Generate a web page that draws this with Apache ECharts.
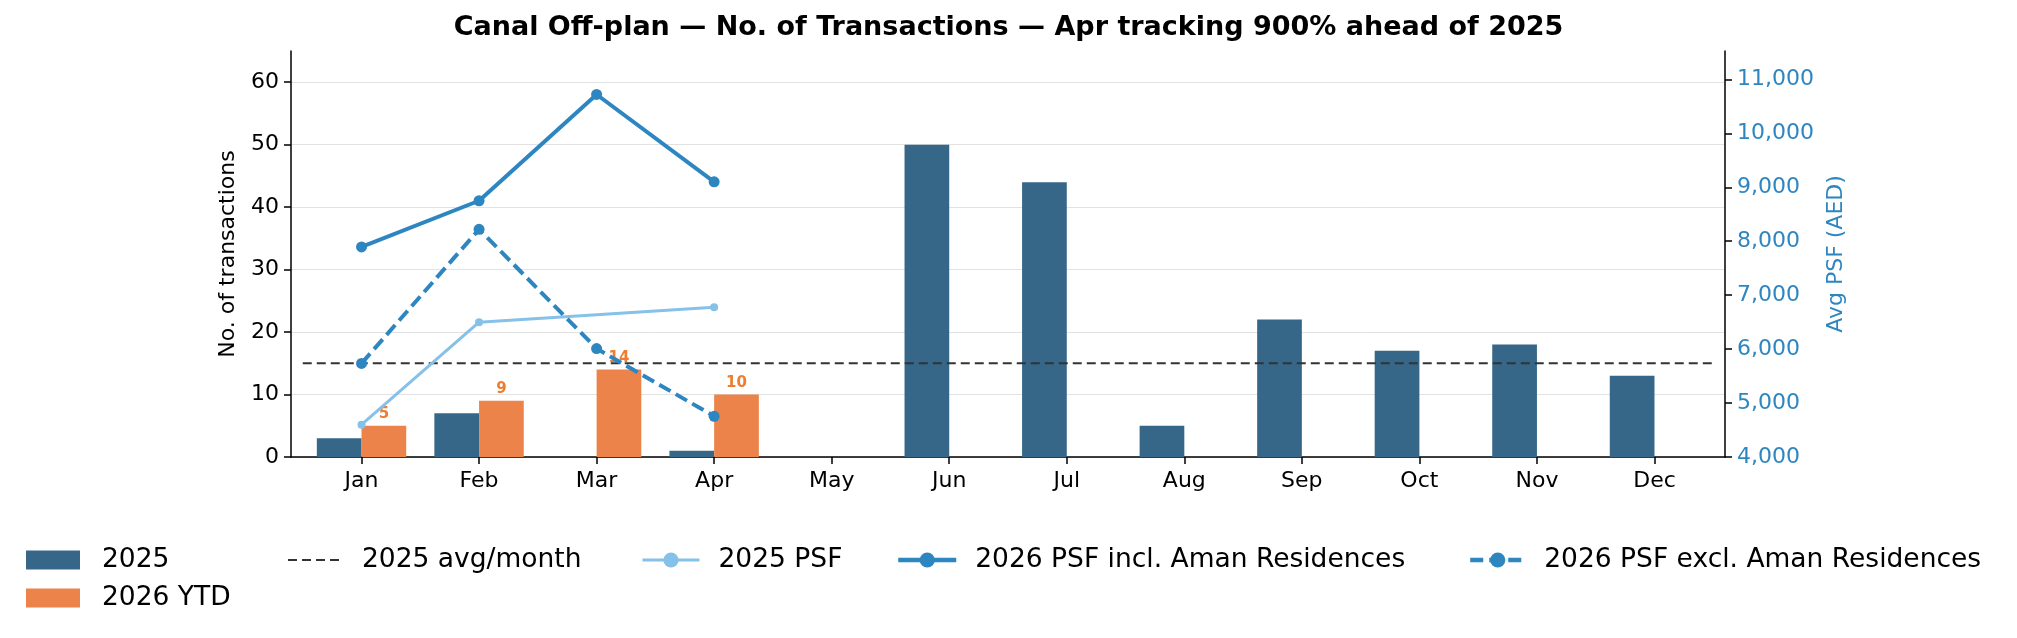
<!DOCTYPE html>
<html>
<head>
<meta charset="utf-8">
<script src="https://cdn.jsdelivr.net/npm/echarts@6/dist/echarts.min.js"></script>
<style>
  html, body { margin: 0; padding: 0; background: #fff; }
  #chart { width: 2017px; height: 638px; }
</style>
</head>
<body>
<div id="chart"></div>
<script>
// data
var months = ['Jan', 'Feb', 'Mar', 'Apr', 'May', 'Jun', 'Jul', 'Aug', 'Sep', 'Oct', 'Nov', 'Dec'];
var tx2025 = [3, 7, 0, 1, 0, 50, 44, 5, 22, 17, 18, 13];
var tx2026 = [5, 9, 14, 10];
var psf2025 = [4600, 6500, null, 6775];
var psf2026Incl = [7895, 8750, 10720, 9100];
var psf2026Excl = [5735, 8220, 6010, 4755];
var leftTicks = [0, 10, 20, 30, 40, 50, 60];
var rightTicks = [4000, 5000, 6000, 7000, 8000, 9000, 10000, 11000];

var avg2025 = tx2025.reduce(function (a, b) { return a + b; }, 0) / tx2025.length;

function pairs(arr) {
    var out = [];
    arr.forEach(function (v, i) {
        if (v !== null) out.push([i, v]);
    });
    return out;
}

var FONT = 'DejaVu Sans';
var C2025 = '#366788';
var C2026 = '#EC834B';
var CPSF = '#2E86C1';
var CPSF25 = '#85C1E9';

var myChart = echarts.init(document.getElementById('chart'));

var legendText = { fontFamily: FONT, fontSize: 26.5, color: '#000', lineHeight: 28, padding: [0, 0, 0, 14] };
var monthIdx = months.map(function (m, i) { return i; });

var option = {
    animation: false,
    textStyle: { fontFamily: FONT },
    title: {
        text: 'Canal Off-plan \u2014 No. of Transactions \u2014 Apr tracking 900% ahead of 2025',
        left: 'center',
        top: 9,
        textStyle: { fontFamily: FONT, fontSize: 27, fontWeight: 'bold', color: '#000' }
    },
    grid: { left: 291, right: 292, top: 51, bottom: 181 },
    legend: [
        {
            orient: 'vertical', left: 26, top: 546, padding: 0, itemWidth: 54, itemHeight: 19, itemGap: 10,
            icon: 'rect',
            data: ['2025', '2026 YTD'],
            textStyle: { fontFamily: FONT, fontSize: 26.5, color: '#000', lineHeight: 28, padding: [0, 0, 0, 17] }
        },
        { left: 287, top: 546, padding: 0, itemWidth: 55, itemHeight: 19, data: ['2025 avg/month'], textStyle: legendText },
        {
            left: 641, top: 546, padding: 0, itemWidth: 57, itemHeight: 19, data: ['2025 PSF'], textStyle: legendText,
            lineStyle: { width: 3 }
        },
        {
            left: 896, top: 546, padding: 0, itemWidth: 58, itemHeight: 19, data: ['2026 PSF incl. Aman Residences'], textStyle: legendText,
            lineStyle: { width: 4.5 }
        },
        {
            left: 1468, top: 546, padding: 0, itemWidth: 55, itemHeight: 19, data: ['2026 PSF excl. Aman Residences'], textStyle: legendText,
            lineStyle: { width: 4.5 }
        }
    ],
    xAxis: {
        type: 'value',
        min: -0.6,
        max: 11.6,
        splitLine: { show: false },
        axisLine: { onZero: false, lineStyle: { color: '#000', width: 1.5 } },
        axisTick: { customValues: monthIdx, length: 7, lineStyle: { color: '#000', width: 1.5 } },
        axisLabel: {
            customValues: monthIdx,
            formatter: function (v) { return months[Math.round(v)]; },
            fontFamily: FONT, fontSize: 22, color: '#000', margin: 13
        }
    },
    yAxis: [
        {
            type: 'value',
            min: 0,
            max: 65,
            interval: 10,
            name: 'No. of transactions',
            nameLocation: 'middle',
            nameGap: 52,
            nameTextStyle: { fontFamily: FONT, fontSize: 22, color: '#000' },
            axisLine: { show: true, onZero: false, lineStyle: { color: '#000', width: 1.5 } },
            axisTick: { show: true, customValues: leftTicks, length: 7, lineStyle: { color: '#000', width: 1.5 } },
            axisLabel: { customValues: leftTicks, fontFamily: FONT, fontSize: 22, color: '#000', margin: 12 },
            splitLine: { show: true, lineStyle: { color: '#e2e2e2', width: 1 } }
        },
        {
            type: 'value',
            min: 4000,
            max: 11526,
            interval: 1000,
            position: 'right',
            name: 'Avg PSF (AED)',
            nameLocation: 'middle',
            nameGap: 97,
            nameTextStyle: { fontFamily: FONT, fontSize: 22, color: CPSF },
            axisLine: { show: true, onZero: false, lineStyle: { color: '#000', width: 1.5 } },
            axisTick: { show: true, customValues: rightTicks, length: 7, lineStyle: { color: '#000', width: 1.5 } },
            axisLabel: {
                customValues: rightTicks,
                formatter: function (v) { return v.toLocaleString('en-US'); },
                fontFamily: FONT, fontSize: 22, color: CPSF, margin: 12
            },
            splitLine: { show: false }
        }
    ],
    series: [
        {
            name: '2025',
            type: 'bar',
            barWidth: 44.7,
            barGap: '0%',
            itemStyle: { color: C2025 },
            data: pairs(tx2025),
            z: 2
        },
        {
            name: '2026 YTD',
            type: 'bar',
            barWidth: 44.7,
            barGap: '0%',
            itemStyle: { color: C2026 },
            label: {
                show: true,
                position: 'top',
                distance: 4,
                color: '#ED7D31',
                fontFamily: FONT,
                fontWeight: 'bold',
                fontSize: 15
            },
            data: pairs(tx2026),
            z: 2
        },
        {
            name: '2025 avg/month',
            type: 'line',
            symbol: 'none',
            lineStyle: { color: '#333', width: 2, type: [9, 5] },
            itemStyle: { color: 'rgba(0,0,0,0)' },
            data: [[-0.5, avg2025], [11.5, avg2025]],
            z: 3
        },
        {
            name: '2025 PSF',
            type: 'line',
            yAxisIndex: 1,
            symbol: 'circle',
            symbolSize: 8,
            lineStyle: { color: CPSF25, width: 3 },
            itemStyle: { color: CPSF25 },
            data: pairs(psf2025),
            z: 4
        },
        {
            name: '2026 PSF incl. Aman Residences',
            type: 'line',
            yAxisIndex: 1,
            symbol: 'circle',
            symbolSize: 11,
            lineStyle: { color: CPSF, width: 4 },
            itemStyle: { color: CPSF },
            data: pairs(psf2026Incl),
            z: 5
        },
        {
            name: '2026 PSF excl. Aman Residences',
            type: 'line',
            yAxisIndex: 1,
            symbol: 'circle',
            symbolSize: 11,
            lineStyle: { color: CPSF, width: 4, type: [13, 6] },
            itemStyle: { color: CPSF },
            data: pairs(psf2026Excl),
            z: 5
        }
    ]
};

myChart.setOption(option);
</script>
</body>
</html>
